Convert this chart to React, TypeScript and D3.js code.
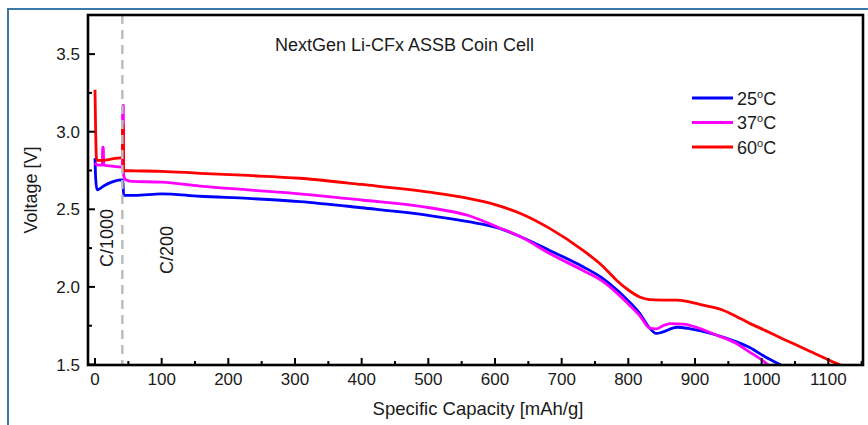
import React from "react";
import * as d3 from "d3";

const seriesNames = ["25°C", "37°C", "60°C"];
const seriesColors = ["#0000ff", "#ff00ff", "#ff0000"];

const blue25: [number, number][] = [
  [0, 2.83], [1, 2.7], [3, 2.625], [8, 2.635], [15, 2.655], [25, 2.675], [35, 2.688], [41, 2.69],
  [42, 2.67], [43, 2.59], [60, 2.59], [100, 2.6], [157, 2.584], [230, 2.57], [307, 2.55],
  [400, 2.51], [502, 2.46], [560, 2.42], [607, 2.377], [640, 2.32], [682, 2.235], [732, 2.13],
  [760, 2.06], [783, 1.98], [800, 1.91], [817, 1.83], [832, 1.735], [842, 1.7], [852, 1.71],
  [873, 1.74], [893, 1.73], [932, 1.69], [960, 1.65], [982, 1.61], [1005, 1.55], [1032, 1.49],
];

const magenta37: [number, number][] = [
  [0, 2.8], [2, 2.79], [5, 2.785], [11, 2.785], [11.5, 2.9], [12.5, 2.9], [13, 2.785], [25, 2.778],
  [41, 2.772], [41.5, 3.17], [42.5, 3.17], [43, 2.72], [46, 2.69], [55, 2.68], [100, 2.675],
  [157, 2.65], [230, 2.625], [307, 2.6], [400, 2.56], [502, 2.51], [560, 2.46], [607, 2.38],
  [640, 2.32], [682, 2.215], [732, 2.106], [760, 2.04], [783, 1.96], [800, 1.89], [817, 1.816],
  [832, 1.735], [842, 1.73], [852, 1.75], [863, 1.764], [883, 1.76], [905, 1.735], [932, 1.69],
  [960, 1.64], [982, 1.58], [1000, 1.53], [1012, 1.49],
];

const red60: [number, number][] = [
  [0, 3.27], [1, 3.0], [2, 2.84], [3, 2.815], [10, 2.815], [20, 2.82], [30, 2.828], [41, 2.835],
  [41.5, 3.04], [42.5, 3.04], [43, 2.75], [60, 2.748], [100, 2.745], [157, 2.732], [230, 2.718],
  [307, 2.7], [400, 2.66], [502, 2.61], [560, 2.57], [600, 2.53], [640, 2.47], [682, 2.377],
  [732, 2.235], [760, 2.14], [783, 2.04], [800, 1.98], [817, 1.935], [832, 1.918], [850, 1.915],
  [873, 1.915], [890, 1.905], [907, 1.887], [942, 1.85], [962, 1.81], [982, 1.765], [1005, 1.72],
  [1032, 1.665], [1060, 1.61], [1083, 1.565], [1105, 1.52], [1122, 1.49],
];

const seriesData = [blue25, magenta37, red60];

const xMajorTicks = [0, 100, 200, 300, 400, 500, 600, 700, 800, 900, 1000, 1100];
const xMinorTicks = [50, 150, 250, 350, 450, 550, 650, 750, 850, 950, 1050, 1150];
const yMajorTicks = [1.5, 2.0, 2.5, 3.0, 3.5];
const yMinorTicks = [1.75, 2.25, 2.75, 3.25];
const rateMarker = 41;

export default function App() {
  const left = 88, right = 863, top = 15, bottom = 365;
  const x = d3.scaleLinear().domain([-10.5, 1152]).range([left, right]);
  const y = d3.scaleLinear().domain([1.5, 3.752]).range([364.5, top]);
  const line = d3
    .line<[number, number]>()
    .x((d) => x(d[0]))
    .y((d) => y(d[1]))
    .curve(d3.curveMonotoneX);
  const font = "'Liberation Sans', Arial, sans-serif";

  return (
    <svg
      width={868}
      height={425}
      style={{ position: "absolute", left: 0, top: 0, background: "#fff" }}
      fontFamily={font}
    >
      <rect x={0} y={0} width={868} height={425} fill="#fff" />
      <rect x={8} y={9} width={880} height={440} fill="none" stroke="#3a78a6" strokeWidth={2} />
      <defs>
        <clipPath id="plotclip">
          <rect x={left} y={top} width={right - left} height={bottom - top} />
        </clipPath>
      </defs>

      <g clipPath="url(#plotclip)">
        {seriesData.map((s, i) => (
          <path
            key={i}
            d={line(s) || ""}
            fill="none"
            stroke={seriesColors[i]}
            strokeWidth={2.8}
            strokeLinejoin="round"
          />
        ))}
        <line
          x1={x(rateMarker)}
          x2={x(rateMarker)}
          y1={top}
          y2={bottom}
          stroke="#bdbdbd"
          strokeWidth={2.5}
          strokeDasharray="9,6"
        />
      </g>

      {xMajorTicks.map((t) => (
        <line key={"xm" + t} x1={x(t)} x2={x(t)} y1={bottom} y2={bottom - 7} stroke="#000" strokeWidth={2} />
      ))}
      {xMinorTicks.map((t) => (
        <line key={"xn" + t} x1={x(t)} x2={x(t)} y1={bottom} y2={bottom - 4} stroke="#000" strokeWidth={2} />
      ))}
      {yMajorTicks.map((t) => (
        <line key={"ym" + t} x1={left} x2={left + 7} y1={y(t)} y2={y(t)} stroke="#000" strokeWidth={2} />
      ))}
      {yMinorTicks.map((t) => (
        <line key={"yn" + t} x1={left} x2={left + 4} y1={y(t)} y2={y(t)} stroke="#000" strokeWidth={2} />
      ))}

      <rect x={left} y={top} width={right - left} height={bottom - top} fill="none" stroke="#000" strokeWidth={2.6} />

      {xMajorTicks.map((t) => (
        <text key={"xl" + t} x={x(t)} y={385} textAnchor="middle" fontSize={17} fill="#1a1a1a">
          {t}
        </text>
      ))}
      {yMajorTicks.map((t) => (
        <text key={"yl" + t} x={80} y={y(t) + 6} textAnchor="end" fontSize={17} fill="#1a1a1a">
          {t.toFixed(1)}
        </text>
      ))}

      <text x={478} y={415} textAnchor="middle" fontSize={18.5} fill="#1a1a1a">
        Specific Capacity [mAh/g]
      </text>
      <text
        transform={`translate(37,${(top + bottom) / 2}) rotate(-90)`}
        textAnchor="middle"
        fontSize={18}
        fill="#1a1a1a"
      >
        Voltage [V]
      </text>

      <text x={275} y={51} fontSize={18} fill="#1a1a1a">
        NextGen Li-CFx ASSB Coin Cell
      </text>

      <text transform={`translate(113,238) rotate(-90)`} textAnchor="middle" fontSize={18} fill="#1a1a1a">
        C/1000
      </text>
      <text transform={`translate(173,250) rotate(-90)`} textAnchor="middle" fontSize={18} fill="#1a1a1a">
        C/200
      </text>

      {seriesNames.map((n, i) => {
        const ly = 98 + i * 24.5;
        const num = n.replace("°C", "");
        return (
          <g key={n}>
            <line x1={692} x2={733} y1={ly} y2={ly} stroke={seriesColors[i]} strokeWidth={3} />
            <text x={737} y={ly + 6.5} fontSize={18} fill="#1a1a1a">
              {num}
              <tspan fontSize={11} dy={-7}>o</tspan>
              <tspan dy={7}>C</tspan>
            </text>
          </g>
        );
      })}
    </svg>
  );
}
